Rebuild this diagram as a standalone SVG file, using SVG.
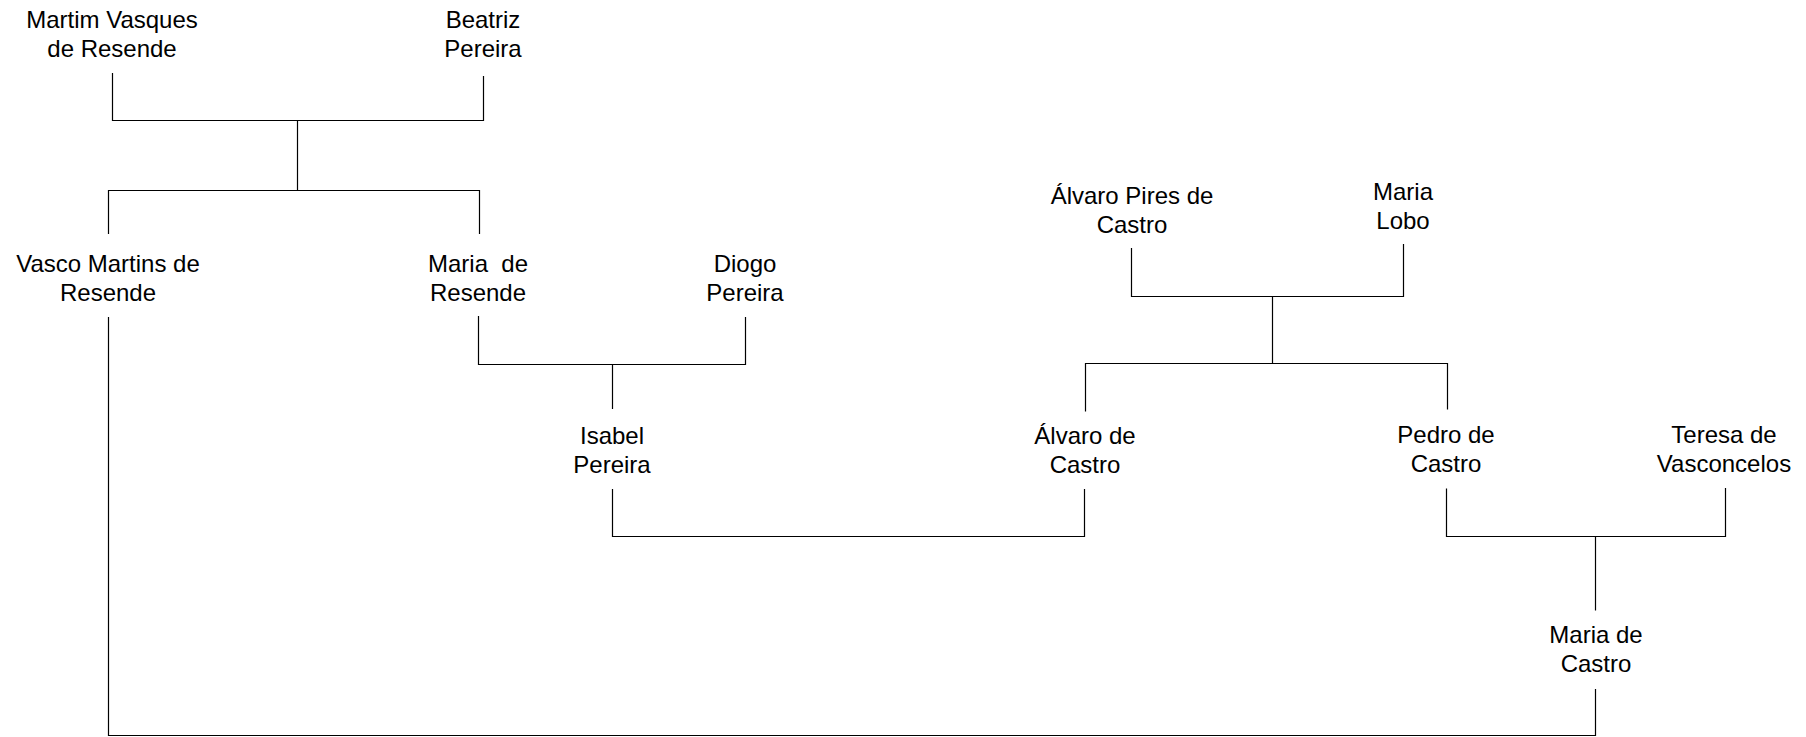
<svg xmlns="http://www.w3.org/2000/svg" width="1806" height="737" viewBox="0 0 1806 737">
<style>
text{font-family:"Liberation Sans",Arial,sans-serif;font-size:24px;fill:#000;text-anchor:middle;white-space:pre}
.c{fill:none;stroke:#000;stroke-width:1.2}
</style>
<rect width="1806" height="737" fill="#fff"/>
<g id="connectors">
<path class="c" d="M112.5 73V120.5H483.5V76"/>
<path class="c" d="M297.5 120.5V190.5"/>
<path class="c" d="M108.5 234V190.5H479.5V234"/>
<path class="c" d="M108.5 317V735.5H1595.5V689"/>
<path class="c" d="M478.5 316V364.5H745.5V317"/>
<path class="c" d="M612.5 364.5V409"/>
<path class="c" d="M1131.5 248V296.5H1403.5V244"/>
<path class="c" d="M1272.5 296.5V363.5"/>
<path class="c" d="M1085.5 411.5V363.5H1447.5V409.5"/>
<path class="c" d="M612.5 489V536.5H1084.5V489"/>
<path class="c" d="M1446.5 488.5V536.5H1725.5V488"/>
<path class="c" d="M1595.5 536.5V610.5"/>
</g>
<g id="n_martim"><text x="112" y="28">Martim Vasques</text><text x="112" y="57">de Resende</text></g>
<g id="n_beatriz"><text x="483" y="28">Beatriz</text><text x="483" y="57">Pereira</text></g>
<g id="n_vasco"><text x="108" y="272">Vasco Martins de</text><text x="108" y="301">Resende</text></g>
<g id="n_maria_resende"><text x="478" y="272">Maria  de</text><text x="478" y="301">Resende</text></g>
<g id="n_diogo"><text x="745" y="272">Diogo</text><text x="745" y="301">Pereira</text></g>
<g id="n_alvaro_pires"><text x="1132" y="204">Álvaro Pires de</text><text x="1132" y="233">Castro</text></g>
<g id="n_maria_lobo"><text x="1403" y="200">Maria</text><text x="1403" y="229">Lobo</text></g>
<g id="n_isabel"><text x="612" y="444">Isabel</text><text x="612" y="473">Pereira</text></g>
<g id="n_alvaro"><text x="1085" y="444">Álvaro de</text><text x="1085" y="473">Castro</text></g>
<g id="n_pedro"><text x="1446" y="443">Pedro de</text><text x="1446" y="472">Castro</text></g>
<g id="n_teresa"><text x="1724" y="443">Teresa de</text><text x="1724" y="472">Vasconcelos</text></g>
<g id="n_maria_castro"><text x="1596" y="643">Maria de</text><text x="1596" y="672">Castro</text></g>
</svg>
